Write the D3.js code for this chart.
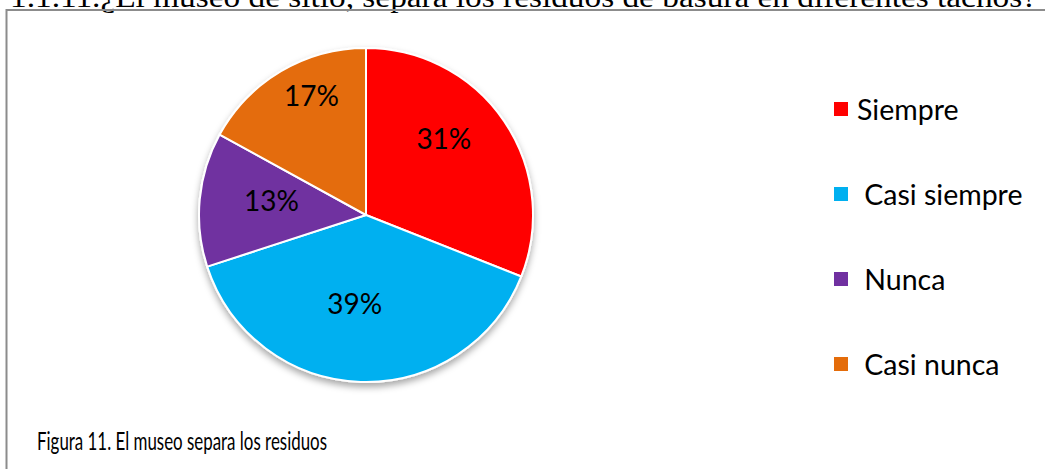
<!DOCTYPE html>
<html>
<head>
<meta charset="utf-8">
<script src="https://cdn.jsdelivr.net/npm/d3@7"></script>
<style>
  body { margin: 0; background: #fff; }
  svg { display: block; }
  .lbl { font-family: Lato, "Noto Sans", sans-serif; fill: #000; }
</style>
</head>
<body>
<div id="chart"></div>
<script>
var categories = ["Siempre", " Casi siempre", " Nunca", " Casi nunca"];
var values = [31, 39, 13, 17];
var colors = ["#FF0000", "#00B0F0", "#7030A0", "#E46C0A"];
var titleText = "1.1.11.¿El museo de sitio, separa los residuos de basura en diferentes tachos?";
var captionText = "Figura 11. El museo separa los residuos";

// small nudges so the labels sit where Excel put them
var labelNudge = [[-9, -18], [-8, -17], [10, -5], [-1, -30]];

var width = 1045, height = 469;
var cx = 366, cy = 215, radius = 167;

var svg = d3.select("#chart").append("svg")
    .attr("width", width)
    .attr("height", height);

var defs = svg.append("defs");
var shadow = defs.append("filter")
    .attr("id", "pieShadow")
    .attr("x", "-20%").attr("y", "-20%")
    .attr("width", "140%").attr("height", "140%");
shadow.append("feDropShadow")
    .attr("dx", 0).attr("dy", 4)
    .attr("stdDeviation", 3.5)
    .attr("flood-color", "#000")
    .attr("flood-opacity", 0.35);

// title line, cut off by the top of the page like in the source scan
svg.append("text")
    .attr("x", 10)
    .attr("y", 7)
    .attr("textLength", 1027)
    .attr("lengthAdjust", "spacingAndGlyphs")
    .style("font-family", "'Liberation Serif', 'DejaVu Serif', serif")
    .style("font-size", "29px")
    .text(titleText);

// frame (right and bottom edges run off the page)
svg.append("path")
    .attr("d", "M6.5," + (height + 5) + "V10H" + (width + 5))
    .attr("fill", "none")
    .attr("stroke", "#8c8c8c")
    .attr("stroke-width", 2);

var pie = d3.pie().sort(null).value(function(d) { return d; });
var arcs = pie(values);

var arc = d3.arc().innerRadius(0).outerRadius(radius);
var labelArc = d3.arc().innerRadius(105).outerRadius(105);

var pieG = svg.append("g")
    .attr("transform", "translate(" + cx + "," + cy + ")");

var sliceG = pieG.append("g").attr("filter", "url(#pieShadow)");
sliceG.selectAll("path").data(arcs)
    .enter().append("path")
    .attr("d", arc)
    .attr("fill", function(d, i) { return colors[i]; })
    .attr("stroke", "#fff")
    .attr("stroke-width", 2)
    .attr("stroke-linejoin", "round");

pieG.selectAll(".pct").data(arcs)
    .enter().append("text")
    .attr("class", "lbl pct")
    .attr("x", function(d, i) { return labelArc.centroid(d)[0] + labelNudge[i][0]; })
    .attr("y", function(d, i) { return labelArc.centroid(d)[1] + labelNudge[i][1]; })
    .attr("text-anchor", "middle")
    .attr("dominant-baseline", "central")
    .style("font-size", "28px")
    .text(function(d) { return d.value + "%"; });

// legend
var legY = d3.scalePoint()
    .domain(d3.range(categories.length))
    .range([109, 364]);

var legend = svg.append("g");
legend.selectAll("rect").data(categories)
    .enter().append("rect")
    .attr("x", 834)
    .attr("y", function(d, i) { return legY(i) - 7; })
    .attr("width", 14)
    .attr("height", 14)
    .attr("fill", function(d, i) { return colors[i]; });

legend.selectAll("text").data(categories)
    .enter().append("text")
    .attr("class", "lbl")
    .attr("x", 857)
    .attr("y", function(d, i) { return legY(i); })
    .attr("dominant-baseline", "central")
    .attr("xml:space", "preserve")
    .style("white-space", "pre")
    .style("font-size", "28.5px")
    .text(function(d) { return d; });

// caption
svg.append("text")
    .attr("class", "lbl")
    .attr("x", 37)
    .attr("y", 450)
    .attr("textLength", 290)
    .attr("lengthAdjust", "spacingAndGlyphs")
    .style("font-size", "25px")
    .text(captionText);
</script>
</body>
</html>
